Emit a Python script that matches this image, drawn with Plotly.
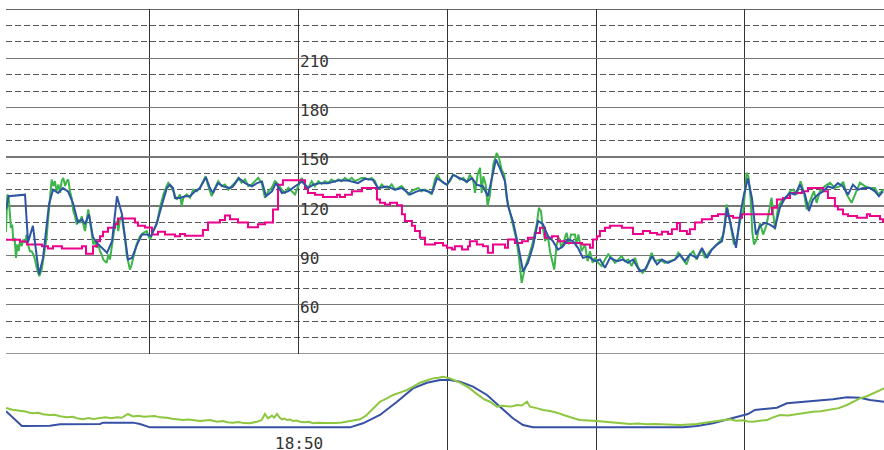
import plotly.graph_objects as go

# ---- time axis: minutes after 18:00 ----
X_RANGE = [30.32, 89.35]
GRID_TIMES = [40, 50, 60, 70, 80]
TIME_LABEL_T = 50
TIME_LABEL = "18:50"

# ---- top panel value axis ----
Y_RANGE = [30, 240]
Y_TICKS = [30, 60, 90, 120, 150, 180, 210, 240]
Y_TICK_TEXT = ["", "60", "90", "120", "150", "180", "210", ""]

# ---- top panel: smoothed (blue) ----
blue_t = [30.32, 30.35, 30.49, 31.60, 31.80, 32.13, 32.54, 32.81, 33.21, 33.48, 33.82, 34.15, 34.49,
          34.82, 35.16, 35.43, 35.63, 35.90, 36.17, 36.50, 37.11, 37.45, 37.78, 38.12, 38.32, 38.52,
          38.79, 39.13, 39.46, 39.80, 40.07, 40.47, 40.81, 41.14, 41.34, 41.55, 41.68, 42.02, 42.35,
          42.69, 43.03, 43.36, 43.76, 44.03, 44.24, 44.57, 44.91, 45.38, 45.58, 45.98, 46.39, 46.86,
          47.19, 47.53, 47.80, 48.20, 48.47, 48.87, 49.28, 49.75, 50.22, 50.62, 50.96, 51.43, 51.97,
          52.64, 53.31, 53.98, 54.45, 54.99, 55.33, 55.93, 56.47, 56.94, 57.48, 57.95, 58.35, 58.96,
          59.30, 59.63, 59.97, 60.37, 60.84, 61.31, 61.65, 61.98, 62.39, 62.72, 63.06, 63.26, 63.53,
          63.87, 64.07, 64.40, 64.74, 65.08, 65.41, 65.75, 66.09, 66.42, 66.76, 67.09, 67.43, 67.77,
          68.10, 68.44, 68.77, 69.11, 69.45, 69.92, 70.25, 70.59, 70.93, 71.40, 71.80, 72.14, 72.47,
          72.94, 73.28, 73.75, 74.09, 74.42, 74.83, 75.30, 75.63, 75.97, 76.30, 76.78, 77.11, 77.45,
          77.78, 78.12, 78.46, 78.66, 78.79, 79.13, 79.40, 79.67, 79.93, 80.20, 80.47, 80.74, 81.01,
          81.35, 81.68, 82.02, 82.35, 82.69, 83.03, 83.36, 83.70, 84.04, 84.30, 84.57, 84.91, 85.25,
          85.58, 85.92, 86.25, 86.59, 86.93, 87.26, 87.60, 87.94, 88.41, 88.74, 89.01, 89.28]
blue_v = [118, 119, 126, 127, 98, 108, 78.4, 88.5, 121, 130, 128, 131, 129,
          122, 110, 112, 109, 115, 101, 97, 91.6, 98.7, 126, 115, 101, 87.5,
          88.5, 96.6, 102.7, 102.7, 101.7, 110, 121, 131, 133, 131, 125, 125, 126,
          126, 129, 131, 137.6, 131, 128, 134, 132, 131, 132, 137, 134, 132,
          134, 135, 126, 129, 134, 128, 129, 132, 135, 131, 133, 134, 134,
          135.6, 135.6, 134, 136.6, 136, 131, 132, 130, 131, 127, 129, 130, 128,
          137, 135, 133, 139, 137, 135, 137, 133, 132, 126, 140, 148.4, 143,
          135, 120, 111, 97, 80.4, 85.5, 95.6, 111, 109, 101.7, 98.7, 93.6, 95.6,
          99.7, 98.7, 94.6, 88.5, 89.5, 86.5, 87.5, 82.5, 88.5, 86.5, 87.5, 85.5, 87.5,
          80.4, 81.4, 89.5, 84.5, 87.5, 85.5, 87.5, 90.6, 86.5, 90.6, 88.5, 94.6, 88.5,
          93.6, 96.6, 98.7, 108.8, 119, 104.8, 94.6, 113.9, 127, 137, 125, 102.7, 107.8,
          109.8, 108.8, 106.8, 119, 125, 128, 127, 133, 127, 117, 124, 127, 129,
          132, 131, 134, 132, 127, 133, 130, 131, 131, 129, 126, 129]

# ---- top panel: raw (green) ----
green_t = [30.32, 30.41, 30.50, 30.59, 30.65, 30.74, 30.81, 30.90, 30.99, 31.08, 31.17, 31.26, 31.37,
           31.48, 31.60, 31.71, 31.80, 31.93, 32.04, 32.16, 32.27, 32.38, 32.56, 32.72, 32.83, 32.94,
           33.05, 33.16, 33.28, 33.39, 33.50, 33.61, 33.72, 33.84, 33.95, 34.06, 34.17, 34.29, 34.40,
           34.51, 34.62, 34.73, 34.85, 34.96, 35.07, 35.18, 35.29, 35.41, 35.52, 35.63, 35.74, 35.85,
           35.97, 36.08, 36.19, 36.30, 36.41, 36.53, 36.64, 36.75, 36.86, 36.97, 37.09, 37.20, 37.31,
           37.42, 37.53, 37.65, 37.76, 37.87, 37.98, 38.10, 38.21, 38.32, 38.43, 38.54, 38.65, 38.77,
           38.88, 39.10, 39.33, 39.55, 39.78, 40.00, 40.22, 40.45, 40.67, 40.90, 41.12, 41.23, 41.39,
           41.57, 41.79, 42.02, 42.13, 42.24, 42.47, 42.69, 42.91, 43.14, 43.36, 43.59, 43.74, 43.92,
           44.15, 44.37, 44.59, 44.82, 45.04, 45.27, 45.49, 45.71, 45.94, 46.16, 46.39, 46.61, 46.84,
           47.06, 47.28, 47.51, 47.73, 47.96, 48.18, 48.40, 48.63, 48.85, 49.08, 49.30, 49.52, 49.75,
           49.97, 50.20, 50.42, 50.64, 50.87, 51.09, 51.32, 51.54, 51.77, 51.99, 52.21, 52.44, 52.66,
           52.89, 53.11, 53.33, 53.56, 53.78, 54.01, 54.23, 54.45, 54.68, 54.90, 55.13, 55.35, 55.58,
           55.80, 56.02, 56.25, 56.47, 56.70, 56.92, 57.14, 57.37, 57.59, 57.82, 58.04, 58.26, 58.49,
           58.71, 58.94, 59.16, 59.34, 59.50, 59.72, 59.95, 60.17, 60.39, 60.62, 60.84, 61.07, 61.29,
           61.51, 61.74, 61.85, 62.03, 62.19, 62.30, 62.41, 62.57, 62.70, 62.86, 63.08, 63.31, 63.46,
           63.64, 63.82, 63.98, 64.20, 64.43, 64.65, 64.81, 64.99, 65.21, 65.44, 65.70, 66.00, 66.15,
           66.29, 66.38, 66.56, 66.74, 66.89, 67.18, 67.34, 67.50, 67.68, 68.01, 68.17, 68.30, 68.57,
           68.68, 68.80, 69.02, 69.25, 69.42, 69.58, 69.76, 69.92, 70.14, 70.37, 70.59, 70.81, 71.04,
           71.26, 71.49, 71.71, 71.93, 72.16, 72.38, 72.61, 72.83, 73.12, 73.39, 73.73, 73.95, 74.29,
           74.62, 74.96, 75.30, 75.52, 75.81, 76.08, 76.30, 76.53, 76.75, 77.09, 77.31, 77.65, 77.99,
           78.32, 78.55, 78.77, 78.99, 79.26, 79.44, 79.67, 79.89, 80.11, 80.23, 80.38, 80.50, 80.61,
           80.79, 81.01, 81.23, 81.46, 81.79, 82.02, 82.24, 82.47, 82.80, 83.03, 83.25, 83.48, 83.74,
           83.97, 84.15, 84.37, 84.64, 84.82, 85.04, 85.38, 85.72, 86.05, 86.39, 86.61, 86.84, 87.17,
           87.51, 87.73, 88.07, 88.41, 88.74, 88.97, 89.19, 89.35]
green_v = [104.2, 127.1, 125.1, 110.9, 106.8, 108.8, 98.7, 100.7, 88.5, 96.7, 92.6, 98.7, 95.6,
           99.7, 97.7, 102.7, 96.7, 92.6, 92.6, 90.6, 87.5, 82.5, 77.4, 81.4, 88.5, 92.6,
           100.7, 112.9, 125.1, 136.2, 132.2, 135.2, 129.1, 133.2, 128.1, 135.2, 137.2, 132.2, 135.2,
           136.2, 129.1, 125.1, 116.9, 113.9, 108.8, 111.9, 109.8, 113.9, 108.8, 104.8, 110.9, 118.0,
           110.9, 102.7, 96.7, 98.7, 94.6, 96.7, 92.6, 90.6, 87.5, 86.5, 85.5, 90.6, 87.5,
           94.6, 100.7, 108.8, 110.9, 104.8, 111.9, 113.9, 106.8, 100.7, 90.6, 86.5, 81.4, 84.5,
           88.5, 96.7, 101.7, 103.8, 104.8, 99.7, 104.8, 108.8, 119.0, 127.1, 132.2, 134.2, 132.2,
           129.1, 124.0, 127.1, 120.0, 125.1, 127.1, 125.1, 130.1, 129.1, 131.1, 135.2, 138.2, 132.2,
           126.1, 131.1, 135.2, 132.2, 133.2, 130.1, 132.2, 134.2, 137.2, 134.2, 136.2, 132.2, 133.2,
           135.2, 137.2, 134.2, 125.1, 129.1, 131.1, 135.2, 133.2, 130.1, 128.1, 131.1, 129.1, 127.1,
           132.2, 137.2, 133.2, 131.1, 135.2, 132.2, 135.2, 133.6, 135.2, 134.2, 136.2, 134.8, 136.2,
           135.2, 137.2, 135.6, 137.2, 135.2, 136.2, 137.2, 137.2, 136.2, 137.2, 135.2, 130.1, 133.2,
           131.5, 131.1, 133.2, 130.1, 131.1, 132.2, 130.1, 127.1, 129.1, 130.1, 131.1, 129.1, 130.1,
           129.1, 127.1, 136.2, 139.2, 136.2, 134.2, 133.2, 135.2, 139.2, 138.2, 136.2, 137.2, 134.2,
           139.2, 135.2, 128.1, 139.2, 143.3, 128.1, 138.2, 133.2, 120.0, 127.1, 145.3, 152.4, 149.4,
           142.3, 139.2, 125.1, 116.9, 108.8, 98.7, 88.5, 73.3, 82.5, 88.5, 96.7, 108.8, 119.0,
           116.9, 108.8, 98.7, 102.7, 92.6, 81.4, 96.7, 100.7, 94.6, 103.8, 96.7, 102.7, 102.7,
           96.7, 102.7, 92.6, 96.7, 86.5, 92.6, 85.5, 88.5, 85.5, 83.5, 87.5, 90.6, 88.5,
           85.5, 87.5, 89.6, 86.5, 87.5, 83.5, 88.5, 82.5, 79.4, 82.5, 91.6, 86.5, 87.5,
           85.5, 86.5, 87.5, 91.6, 87.5, 84.5, 90.6, 92.6, 87.5, 93.6, 88.5, 92.6, 95.6,
           98.7, 102.7, 121.0, 110.9, 96.7, 98.7, 110.9, 116.9, 140.3, 138.2, 125.1, 103.8, 96.7,
           99.7, 109.8, 102.7, 108.8, 125.1, 105.8, 120.0, 123.0, 125.1, 129.1, 130.1, 127.1, 135.2,
           128.1, 118.0, 123.0, 129.1, 122.0, 129.1, 132.2, 134.2, 131.1, 132.2, 134.8, 127.1, 122.0,
           130.1, 134.2, 132.2, 131.1, 131.1, 127.1, 129.1, 130.1]

# ---- top panel: stepped (magenta) ----
mag_t = [30.32, 31.26, 31.73, 32.74, 33.14, 33.48, 34.08, 35.43, 35.70, 36.17, 36.44, 36.64, 36.84,
         37.18, 37.65, 37.85, 38.99, 39.19, 39.66, 40.13, 40.54, 41.01, 41.68, 42.02, 42.35, 43.56,
         43.90, 44.71, 45.04, 45.38, 45.92, 46.59, 47.26, 47.73, 48.27, 48.61, 48.94, 50.42, 50.62,
         51.09, 51.63, 52.57, 52.77, 53.11, 53.58, 54.25, 55.26, 55.46, 55.80, 56.14, 56.61, 56.94,
         57.14, 57.61, 57.82, 58.15, 58.49, 59.16, 59.70, 59.97, 60.30, 60.50, 60.98, 61.38, 61.51,
         61.98, 62.39, 62.72, 63.06, 63.87, 64.07, 64.54, 65.01, 65.41, 65.88, 66.22, 66.56, 67.03,
         67.43, 67.90, 69.04, 69.58, 69.78, 70.05, 70.25, 70.59, 70.93, 71.73, 72.47, 73.14, 73.62,
         74.09, 74.42, 74.83, 75.09, 75.43, 75.63, 76.10, 76.30, 76.64, 77.11, 77.78, 78.19, 78.79,
         79.20, 79.80, 81.82, 82.15, 82.56, 83.03, 83.83, 84.24, 85.25, 85.58, 86.05, 86.25, 86.59,
         86.93, 87.53, 88.20, 88.41, 89.08, 89.28, 89.35]
mag_v = [99.6, 98.5, 96.6, 95.6, 94.2, 95.6, 94.2, 95.6, 91, 95.6, 98.7, 101.7, 104.4,
         106.8, 109.2, 112.5, 110, 108, 107, 102.7, 104.4, 102.7, 101.7, 103, 102, 105.5,
         110, 111.5, 114.3, 112, 110, 107.2, 109, 110, 118, 133, 135.8, 131, 128,
         127, 125.5, 127, 125.5, 127, 129, 131, 124, 122, 121, 122, 120.5, 115,
         111, 108, 104.8, 100.8, 96.6, 97.6, 96, 94.6, 93.6, 95.6, 93.6, 95.6, 98.7,
         96.6, 95.6, 91.6, 96.6, 94.6, 99.7, 97.6, 98.7, 100.8, 103.7, 106.8, 100.8, 101.7,
         98.7, 97.6, 96.6, 94.6, 99.7, 101.7, 104.8, 106.8, 108, 106.8, 103, 104.8, 103.7,
         102.7, 104.4, 103, 106, 109.8, 104.8, 103, 106, 110, 112, 114, 115, 114,
         113, 115, 119, 124, 125, 128, 129, 131, 129, 125, 120, 118, 115,
         114, 113, 115, 114, 112, 110.5, 110.5]

# ---- lower panel (relative scale 0-100) ----
low_green_t = [30.32, 30.39, 30.75, 31.00, 31.26, 31.60, 31.85, 32.13, 32.50, 32.80, 33.28, 33.60, 33.95,
               34.42, 34.80, 35.10, 35.50, 35.85, 36.20, 36.64, 37.00, 37.40, 37.78, 38.10, 38.52, 38.86,
               39.20, 39.60, 40.00, 40.30, 40.70, 41.14, 41.50, 41.85, 42.22, 42.60, 43.00, 43.36, 43.70,
               44.03, 44.50, 44.90, 45.20, 45.58, 45.95, 46.30, 46.72, 47.00, 47.19, 47.50, 47.73, 47.93,
               48.20, 48.35, 48.54, 48.70, 48.87, 49.05, 49.21, 49.40, 49.61, 49.85, 50.08, 50.40, 50.70,
               50.96, 51.30, 51.70, 52.10, 52.50, 52.90, 53.24, 53.70, 54.12, 54.50, 54.79, 55.10, 55.46,
               55.90, 56.34, 56.80, 57.28, 57.70, 58.15, 58.60, 59.03, 59.40, 59.70, 60.17, 60.50, 60.84,
               61.20, 61.51, 61.85, 62.19, 62.50, 62.86, 63.33, 63.65, 64.00, 64.30, 64.67, 65.00, 65.35,
               65.55, 66.00, 66.42, 66.90, 67.36, 67.80, 68.24, 68.60, 68.91, 69.50, 70.05, 70.60, 71.13,
               71.70, 72.27, 72.80, 73.41, 73.95, 74.49, 75.05, 75.63, 76.20, 76.78, 77.30, 77.85, 78.40,
               78.99, 79.40, 79.87, 80.20, 80.54, 81.00, 81.48, 81.90, 82.35, 82.90, 83.50, 84.00, 84.57,
               85.10, 85.72, 86.30, 86.86, 87.30, 87.73, 88.20, 88.61, 89.00, 89.35]
low_green_v = [44.0, 43.4, 42.0, 41.5, 40.6, 40.2, 39.0, 38.2, 38.8, 37.2, 36.5, 36.8, 35.2,
               34.0, 34.6, 33.0, 32.0, 33.2, 32.4, 33.0, 34.0, 33.2, 34.0, 33.5, 37.5, 35.0,
               35.6, 34.6, 34.7, 35.3, 34.0, 33.7, 32.6, 32.0, 31.2, 31.8, 30.6, 30.2, 30.8,
               31.2, 29.5, 30.2, 29.0, 28.5, 29.2, 28.0, 27.8, 28.6, 29.5, 31.0, 37.5, 33.0,
               35.8, 33.5, 37.5, 34.0, 32.0, 32.8, 31.2, 31.8, 30.2, 30.6, 29.5, 29.0, 29.4,
               27.8, 28.4, 28.0, 27.8, 28.2, 28.6, 29.5, 30.2, 32.0, 35.5, 39.9, 44.5, 50.3,
               53.5, 57.3, 59.8, 62.5, 66.0, 70.1, 72.4, 74.6, 75.2, 76.4, 74.6, 72.6, 70.1,
               67.0, 64.2, 59.8, 55.6, 52.6, 50.3, 45.1, 46.0, 45.8, 45.2, 46.9, 46.4, 50.3,
               45.1, 43.6, 41.7, 40.6, 38.9, 36.4, 34.0, 32.5, 31.2, 31.0, 30.2, 29.4, 28.5,
               28.0, 27.1, 27.6, 26.7, 27.0, 26.7, 26.2, 26.0, 26.6, 27.1, 28.4, 29.5, 30.6,
               32.0, 30.5, 30.9, 29.6, 29.5, 30.4, 31.2, 34.0, 36.5, 36.0, 37.5, 38.2, 39.9,
               40.4, 41.7, 43.6, 46.9, 50.2, 53.8, 56.0, 59.0, 61.5, 64.2]

low_blue_t = [30.32, 31.39, 33.28, 33.95, 36.64, 36.84, 38.86, 39.33, 40.00, 53.45, 54.32, 55.46, 56.61,
              57.68, 58.62, 59.50, 60.17, 60.84, 61.72, 62.66, 63.53, 64.40, 65.08, 65.75, 75.83, 76.78,
              77.85, 78.99, 79.87, 80.20, 80.67, 81.21, 82.15, 82.82, 84.17, 85.92, 86.86, 87.73, 88.41,
              89.35]
low_blue_v = [40.5, 25.0, 25.3, 26.7, 27.1, 28.5, 28.5, 27.1, 23.6, 23.6, 27.8, 36.5, 50.3,
              64.2, 70.1, 72.9, 72.9, 71.2, 66.0, 57.3, 45.1, 33.0, 26.0, 23.6, 23.6, 25.0,
              27.8, 32.3, 36.5, 37.5, 41.7, 42.7, 44.1, 48.6, 50.3, 52.8, 54.9, 54.5, 52.0,
              50.3]

W, H = 884, 450
x_left = 6 / W
split = 96 / H
top = 441 / H

fig = go.Figure()
fig.add_trace(go.Scatter(x=green_t, y=green_v, mode="lines",
                         line=dict(color="#3db54a", width=2), xaxis="x", yaxis="y"))
fig.add_trace(go.Scatter(x=mag_t, y=mag_v, mode="lines", line_shape="hv",
                         line=dict(color="#ec008c", width=2), xaxis="x", yaxis="y"))
fig.add_trace(go.Scatter(x=blue_t, y=blue_v, mode="lines",
                         line=dict(color="#2e55a5", width=2), xaxis="x", yaxis="y"))
fig.add_trace(go.Scatter(x=low_blue_t, y=low_blue_v, mode="lines",
                         line=dict(color="#3650a6", width=2), xaxis="x", yaxis="y2"))
fig.add_trace(go.Scatter(x=low_green_t, y=low_green_v, mode="lines",
                         line=dict(color="#8dc63f", width=2), xaxis="x", yaxis="y2"))

# border lines of the top panel (range ends, which plotly does not grid)
edge_shapes = [
    dict(type="line", xref="paper", yref="y", x0=x_left, x1=1, y0=Y_RANGE[1], y1=Y_RANGE[1],
         line=dict(color="#333333", width=1.5), layer="below"),
    dict(type="line", xref="paper", yref="y", x0=x_left, x1=1, y0=Y_RANGE[0], y1=Y_RANGE[0],
         line=dict(color="#777777", width=1.5), layer="below"),
]

fig.update_layout(
    width=W, height=H,
    margin=dict(l=0, r=0, t=0, b=0, autoexpand=False),
    paper_bgcolor="white", plot_bgcolor="white",
    showlegend=False,
    hovermode=False,
    font=dict(family="DejaVu Sans Mono", size=16, color="#333333"),
    shapes=edge_shapes,
    xaxis=dict(domain=[x_left, 1], range=X_RANGE, tickvals=GRID_TIMES,
               showticklabels=False, ticks="", showgrid=True,
               gridcolor="#333333", gridwidth=1, zeroline=False, showline=False,
               anchor="y2"),
    yaxis=dict(domain=[split, top], range=Y_RANGE, tickvals=Y_TICKS, ticktext=Y_TICK_TEXT,
               showgrid=True, gridcolor="#777777", gridwidth=1.5,
               minor=dict(dtick=10, showgrid=True, gridcolor="#555555", gridwidth=1,
                          griddash="6px,3px", ticks=""),
               zeroline=False, showline=False, ticks="",
               anchor="free", position=299 / W, ticklabelposition="inside",
               ticklabelshift=3, ticklabelstandoff=-3,
               tickfont=dict(family="DejaVu Sans Mono", size=16, color="#333333")),
    yaxis2=dict(domain=[0, split], range=[0, 100], showgrid=False, showticklabels=False,
                zeroline=False, showline=False, ticks="", anchor="x"),
    annotations=[dict(x=TIME_LABEL_T, y=7 / H, xref="x", yref="paper", text=TIME_LABEL,
                      showarrow=False, xanchor="center", yanchor="middle",
                      borderpad=0,
                      font=dict(family="DejaVu Sans Mono", size=16, color="#333333"))],
)

fig.write_html("out.html",
               config={"displayModeBar": False, "staticPlot": True},
               post_script="document.body.style.margin='0';document.body.style.padding='0';")
